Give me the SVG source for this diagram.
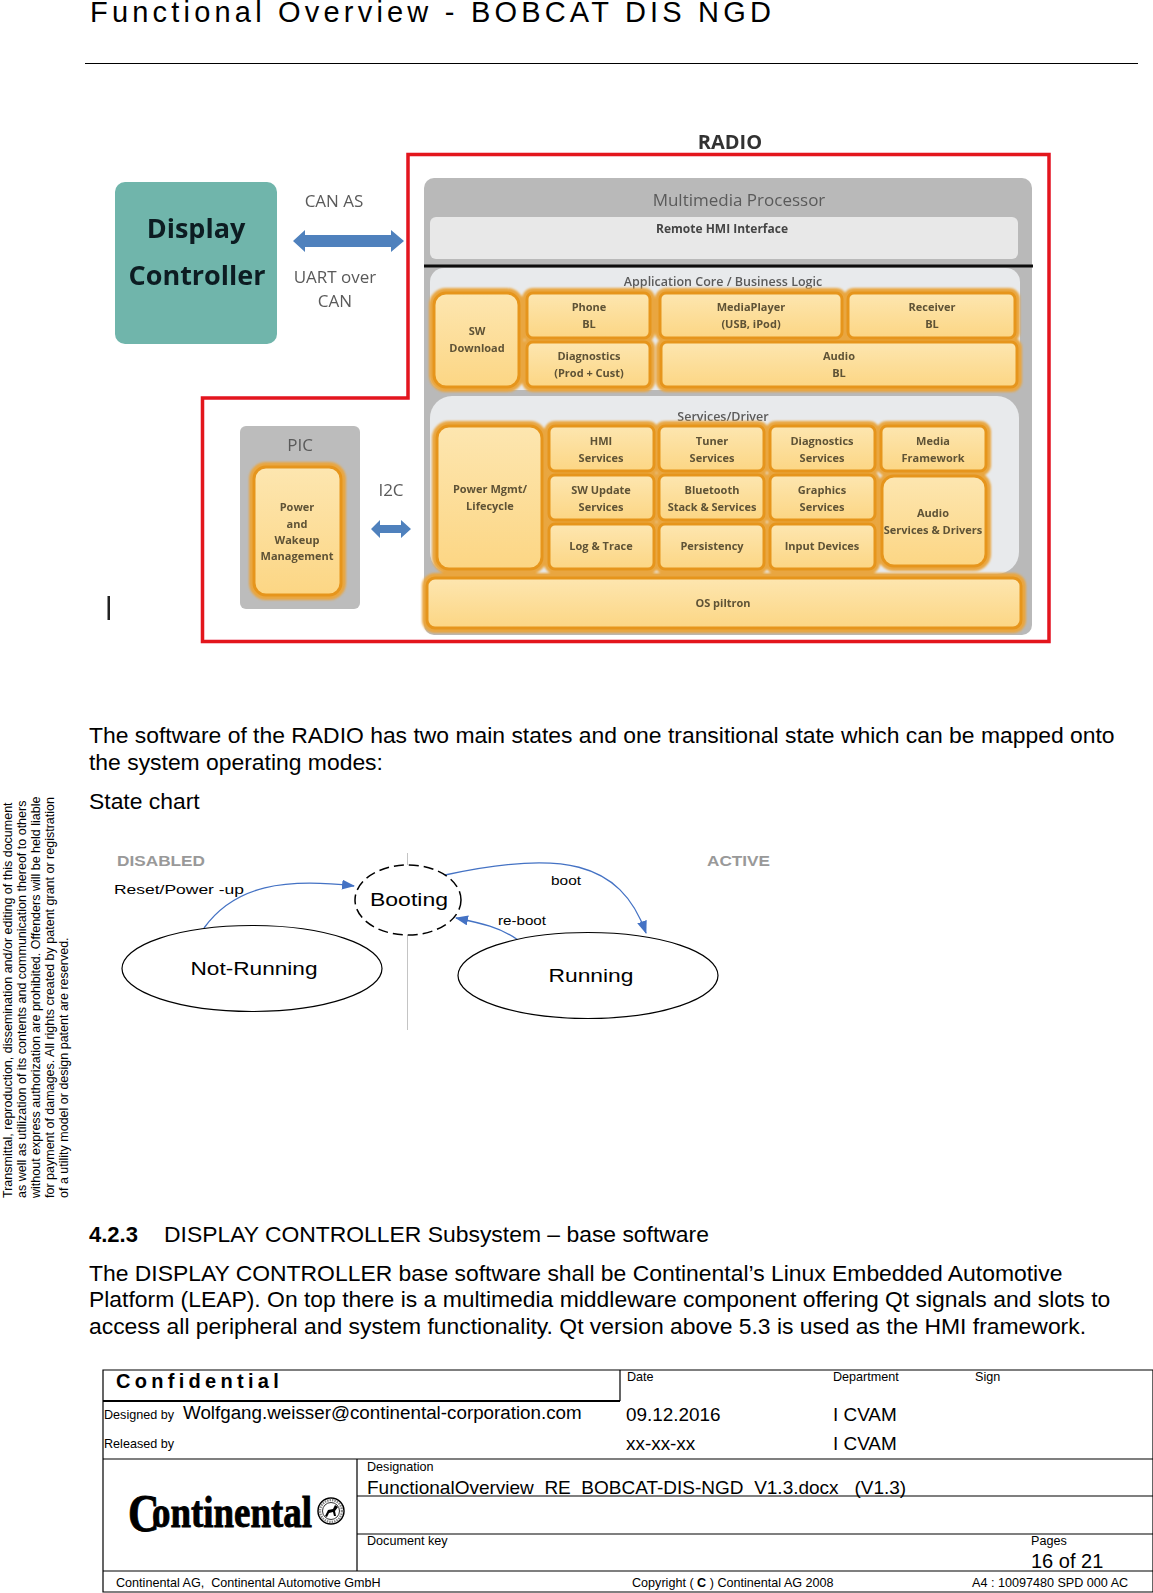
<svg xmlns="http://www.w3.org/2000/svg" width="1153" height="1593" viewBox="0 0 1153 1593">
<defs>
<linearGradient id="og" x1="0" y1="0" x2="0" y2="1"><stop offset="0" stop-color="#fde6b0"/><stop offset="1" stop-color="#fcd684"/></linearGradient>
<filter id="soft" x="-5%" y="-5%" width="110%" height="110%"><feGaussianBlur stdDeviation="0.65"/></filter>
<filter id="glow" x="-10%" y="-15%" width="120%" height="130%"><feGaussianBlur stdDeviation="1.3"/></filter>
<marker id="ah" viewBox="0 0 13 10" refX="12" refY="5" markerWidth="13" markerHeight="10" orient="auto" markerUnits="userSpaceOnUse"><path d="M0 0L13 5L0 10Z" fill="#4472c4"/></marker>
</defs>
<style>
text{font-family:"Liberation Sans",Arial,sans-serif;fill:#000;white-space:pre}
.body{font-size:22.9px}
.o{fill:url(#og);stroke:#e6951c;stroke-width:3}
.og{fill:none;stroke:#e9a640;stroke-width:10}
.t{font-family:"Open Sans","Noto Sans",sans-serif;font-size:11px;font-weight:700;fill:#5e5236;text-anchor:middle}
.g{font-family:"Open Sans","Noto Sans",sans-serif;fill:#5a5a5a;text-anchor:middle}
.hd{font-family:"Open Sans","Noto Sans",sans-serif;font-weight:700;text-anchor:middle}
.red{fill:none;stroke:#e3141f;stroke-width:3.5}
.dbl{fill:#4f81bd}
.st{fill:#fff;stroke:#000;stroke-width:1.2}
.e{font-size:18px;text-anchor:middle}
.c{fill:none;stroke:#4472c4;stroke-width:1.3;marker-end:url(#ah)}
.zone{font-size:14px;font-weight:bold;fill:#999}
.lb{font-size:13.5px}
.tb{fill:none;stroke:#000;stroke-width:1.2}
.s{font-size:12.6px}
.v{font-size:18.9px}
.l{font-size:12.5px}
.logo{font-family:"Liberation Serif",serif;font-size:44px;font-weight:bold;stroke:#000;stroke-width:.9}
</style>
<rect width="1153" height="1593" fill="#fff"/>
<g id="header">
<text x="90" y="22" font-size="29" letter-spacing="4.2">Functional Overview - BOBCAT DIS NGD</text>
<line x1="85" y1="63.500" x2="1138" y2="63.500" stroke="#000" stroke-width="1.200"/>
</g>
<g id="architecture" filter="url(#soft)">
<path id="radio-frame" class="red" d="M408 154.500H1049V641.500H202.500V398H408Z"/>
<text class="hd" x="730" y="149" font-size="20" style="fill:#333">RADIO</text>
<g id="display-controller">
<rect x="115" y="182" width="162" height="162" rx="10" fill="#6fb5ab"/>
<text class="hd" x="196" y="238" font-size="27" style="fill:#0c1f22">Display</text>
<text class="hd" x="197" y="285" font-size="27" style="fill:#0c1f22">Controller</text>
</g>
<g id="can-link">
<path class="dbl" d="M293 241L305 230V235H391V230L404 241L391 252V247H305V252Z"/>
<text class="g" x="334" y="207" font-size="17">CAN AS</text>
<text class="g" x="335" y="283" font-size="17">UART over</text>
<text class="g" x="335" y="307" font-size="17">CAN</text>
</g>
<g id="multimedia-processor">
<rect x="424" y="178" width="608" height="457" rx="10" fill="#b9b9b9"/>
<text class="g" x="739" y="206" font-size="17">Multimedia Processor</text>
<rect x="430" y="217" width="588" height="42" rx="6" fill="#e8e8e8"/>
<text class="hd" x="722" y="233" font-size="12" style="fill:#444">Remote HMI Interface</text>
<rect x="430" y="268" width="590" height="122" rx="14" fill="#e8eaec"/>
<rect x="430" y="396" width="589" height="178" rx="22" fill="#e8eaec"/>
<line x1="424" y1="266" x2="1033" y2="266" stroke="#111" stroke-width="2.800"/>
<text class="g" x="723" y="286" font-size="12.500" font-weight="600">Application Core / Business Logic</text>
<text class="g" x="723" y="421" font-size="12.500" font-weight="600">Services/Driver</text>
</g>
<g id="orange-glow" filter="url(#glow)">
<rect class="og" x="434" y="293" width="85" height="94" rx="12"/>
<rect class="og" x="527" y="293" width="123" height="45" rx="6"/>
<rect class="og" x="527" y="342" width="123" height="45" rx="6"/>
<rect class="og" x="660" y="293" width="182" height="45" rx="6"/>
<rect class="og" x="848" y="293" width="167" height="45" rx="6"/>
<rect class="og" x="661" y="342" width="356" height="45" rx="6"/>
<rect class="og" x="437" y="426" width="105" height="143" rx="12"/>
<rect class="og" x="549" y="426" width="105" height="45" rx="6"/>
<rect class="og" x="659" y="426" width="105" height="45" rx="6"/>
<rect class="og" x="770" y="426" width="105" height="45" rx="6"/>
<rect class="og" x="881" y="426" width="105" height="45" rx="6"/>
<rect class="og" x="549" y="475" width="105" height="45" rx="6"/>
<rect class="og" x="659" y="475" width="105" height="45" rx="6"/>
<rect class="og" x="770" y="475" width="105" height="45" rx="6"/>
<rect class="og" x="882" y="476" width="104" height="90" rx="12"/>
<rect class="og" x="549" y="524" width="105" height="45" rx="6"/>
<rect class="og" x="659" y="524" width="105" height="45" rx="6"/>
<rect class="og" x="770" y="524" width="105" height="45" rx="6"/>
<rect class="og" x="427" y="578" width="594" height="50" rx="8"/>
</g>
<g id="sw-download"><rect class="o" x="434" y="293" width="85" height="94" rx="12"/><text class="t" x="477" y="335">SW</text><text class="t" x="477" y="352">Download</text></g>
<g id="phone-bl"><rect class="o" x="527" y="293" width="123" height="45" rx="6"/><text class="t" x="589" y="311">Phone</text><text class="t" x="589" y="328">BL</text></g>
<g id="diagnostics-bl"><rect class="o" x="527" y="342" width="123" height="45" rx="6"/><text class="t" x="589" y="360">Diagnostics</text><text class="t" x="589" y="377">(Prod + Cust)</text></g>
<g id="media-player"><rect class="o" x="660" y="293" width="182" height="45" rx="6"/><text class="t" x="751" y="311">MediaPlayer</text><text class="t" x="751" y="328">(USB, iPod)</text></g>
<g id="receiver-bl"><rect class="o" x="848" y="293" width="167" height="45" rx="6"/><text class="t" x="932" y="311">Receiver</text><text class="t" x="932" y="328">BL</text></g>
<g id="audio-bl"><rect class="o" x="661" y="342" width="356" height="45" rx="6"/><text class="t" x="839" y="360">Audio</text><text class="t" x="839" y="377">BL</text></g>
<g id="power-mgmt"><rect class="o" x="437" y="426" width="105" height="143" rx="12"/><text class="t" x="490" y="493">Power Mgmt/</text><text class="t" x="490" y="510">Lifecycle</text></g>
<g id="hmi-services"><rect class="o" x="549" y="426" width="105" height="45" rx="6"/><text class="t" x="601" y="445">HMI</text><text class="t" x="601" y="462">Services</text></g>
<g id="tuner-services"><rect class="o" x="659" y="426" width="105" height="45" rx="6"/><text class="t" x="712" y="445">Tuner</text><text class="t" x="712" y="462">Services</text></g>
<g id="diagnostics-services"><rect class="o" x="770" y="426" width="105" height="45" rx="6"/><text class="t" x="822" y="445">Diagnostics</text><text class="t" x="822" y="462">Services</text></g>
<g id="media-framework"><rect class="o" x="881" y="426" width="105" height="45" rx="6"/><text class="t" x="933" y="445">Media</text><text class="t" x="933" y="462">Framework</text></g>
<g id="sw-update"><rect class="o" x="549" y="475" width="105" height="45" rx="6"/><text class="t" x="601" y="494">SW Update</text><text class="t" x="601" y="511">Services</text></g>
<g id="bluetooth"><rect class="o" x="659" y="475" width="105" height="45" rx="6"/><text class="t" x="712" y="494">Bluetooth</text><text class="t" x="712" y="511">Stack &amp; Services</text></g>
<g id="graphics"><rect class="o" x="770" y="475" width="105" height="45" rx="6"/><text class="t" x="822" y="494">Graphics</text><text class="t" x="822" y="511">Services</text></g>
<g id="audio-services"><rect class="o" x="882" y="476" width="104" height="90" rx="12"/><text class="t" x="933" y="517">Audio</text><text class="t" x="933" y="534">Services &amp; Drivers</text></g>
<g id="log-trace"><rect class="o" x="549" y="524" width="105" height="45" rx="6"/><text class="t" x="601" y="550">Log &amp; Trace</text></g>
<g id="persistency"><rect class="o" x="659" y="524" width="105" height="45" rx="6"/><text class="t" x="712" y="550">Persistency</text></g>
<g id="input-devices"><rect class="o" x="770" y="524" width="105" height="45" rx="6"/><text class="t" x="822" y="550">Input Devices</text></g>
<g id="os"><rect class="o" x="427" y="578" width="594" height="50" rx="8"/><text class="t" x="723" y="607">OS piltron</text></g>
<g id="pic">
<rect x="240" y="426" width="120" height="183" rx="6" fill="#bcbcbc"/>
<text class="g" x="300" y="451" font-size="17">PIC</text>
<rect class="og" x="254" y="467" width="87" height="128" rx="12" filter="url(#glow)"/>
<rect class="o" x="254" y="467" width="87" height="128" rx="12"/>
<text class="t" x="297" y="511">Power</text><text class="t" x="297" y="528">and</text><text class="t" x="297" y="544">Wakeup</text><text class="t" x="297" y="560">Management</text>
</g>
<g id="i2c-link">
<path class="dbl" d="M371 529L380 520V525H401V520L411 529L401 538V533H380V538Z"/>
<text class="g" x="391" y="496" font-size="17">I2C</text>
</g>
<rect x="107.500" y="596" width="2.500" height="24" fill="#222"/>
</g>
<g id="body-text">
<text class="body" x="89" y="743">The software of the RADIO has two main states and one transitional state which can be mapped onto</text>
<text class="body" x="89" y="770">the system operating modes:</text>
<text class="body" x="89" y="809">State chart</text>
<text x="89" y="1242" font-size="22" font-weight="bold">4.2.3</text>
<text class="body" x="164" y="1242">DISPLAY CONTROLLER Subsystem – base software</text>
<text class="body" x="89" y="1281">The DISPLAY CONTROLLER base software shall be Continental’s Linux Embedded Automotive</text>
<text class="body" x="89" y="1307">Platform (LEAP). On top there is a multimedia middleware component offering Qt signals and slots to</text>
<text class="body" x="89" y="1334">access all peripheral and system functionality. Qt version above 5.3 is used as the HMI framework.</text>
</g>
<g id="state-chart">
<line x1="407.500" y1="853" x2="407.500" y2="1030" stroke="#c4c4c4" stroke-width="1"/>
<text class="zone" x="117" y="866" textLength="88" lengthAdjust="spacingAndGlyphs">DISABLED</text>
<text class="zone" x="707" y="866" textLength="63" lengthAdjust="spacingAndGlyphs">ACTIVE</text>
<g id="connectors">
<path class="c" d="M204 928C235 885 285 878 354 886"/>
<path class="c" d="M445 875C560 850 620 860 646 933"/>
<path class="c" d="M518 940C500 927 480 923 456 918"/>
</g>
<g id="not-running"><ellipse class="st" cx="252" cy="968.500" rx="130" ry="43"/><text class="e" x="254" y="975" textLength="127" lengthAdjust="spacingAndGlyphs">Not-Running</text></g>
<g id="running"><ellipse class="st" cx="588" cy="975.500" rx="130" ry="43"/><text class="e" x="591" y="982" textLength="85" lengthAdjust="spacingAndGlyphs">Running</text></g>
<g id="booting"><ellipse class="st" cx="408" cy="900" rx="53" ry="35" stroke-dasharray="10 5" style="stroke-width:1.500"/><text class="e" x="409" y="906" textLength="78" lengthAdjust="spacingAndGlyphs">Booting</text></g>
<text class="lb" x="114" y="894" textLength="130" lengthAdjust="spacingAndGlyphs">Reset/Power -up</text>
<text class="lb" x="551" y="885" textLength="30" lengthAdjust="spacingAndGlyphs">boot</text>
<text class="lb" x="498" y="925" textLength="48" lengthAdjust="spacingAndGlyphs">re-boot</text>
</g>
<g id="side-note" class="l" transform="rotate(-90)">
<text x="-1198" y="12">Transmittal, reproduction, dissemination and/or editing of this document</text>
<text x="-1198" y="26">as well as utilization of its contents and communication thereof to others</text>
<text x="-1198" y="40">without express authorization are prohibited. Offenders will be held liable</text>
<text x="-1198" y="54">for payment of damages. All rights created by patent grant or registration</text>
<text x="-1198" y="68">of a utility model or design patent are reserved.</text>
</g>
<g id="title-block">
<path class="tb" d="M103 1370H1153V1592H103ZM620 1370V1401M103 1459H1153M357 1459V1571M357 1496H1153M357 1534H1153M103 1571H1153"/>
<line x1="103" y1="1401" x2="620" y2="1401" stroke="#000" stroke-width="2"/>
<text x="116" y="1388" font-size="20" font-weight="bold" letter-spacing="4.300">Confidential</text>
<text class="s" x="627" y="1381">Date</text>
<text class="s" x="833" y="1381">Department</text>
<text class="s" x="975" y="1381">Sign</text>
<text class="s" x="104" y="1419">Designed by</text>
<text class="v" x="183" y="1419" style="font-size:18.800px">Wolfgang.weisser@continental-corporation.com</text>
<text class="v" x="626" y="1421">09.12.2016</text>
<text class="v" x="833" y="1421">I CVAM</text>
<text class="s" x="104" y="1448">Released by</text>
<text class="v" x="626" y="1450">xx-xx-xx</text>
<text class="v" x="833" y="1450">I CVAM</text>
<text class="s" x="367" y="1471">Designation</text>
<text class="v" x="367" y="1494" style="font-size:19px">FunctionalOverview  RE  BOBCAT-DIS-NGD  V1.3.docx   (V1.3)</text>
<text class="s" x="367" y="1545">Document key</text>
<text class="s" x="1031" y="1545">Pages</text>
<text class="v" x="1031" y="1568" style="font-size:20px">16 of 21</text>
<text class="s" x="116" y="1587">Continental AG,  Continental Automotive GmbH</text>
<text class="s" x="632" y="1587">Copyright ( <tspan font-weight="bold">C</tspan> ) Continental AG 2008</text>
<text class="s" x="972" y="1587">A4 : 10097480 SPD 000 AC</text>
<g id="logo">
<text class="logo" x="128" y="1527" textLength="184" lengthAdjust="spacingAndGlyphs"><tspan font-size="52" dy="4">C</tspan><tspan dx="-9" dy="-4">ontinental</tspan></text>
<circle cx="331" cy="1511" r="13" fill="#fff" stroke="#000" stroke-width="1.500"/>
<circle cx="331" cy="1511" r="11" fill="none" stroke="#888" stroke-width="2.500" stroke-dasharray="1.500 1"/>
<circle cx="331" cy="1511" r="8.500" fill="#fff" stroke="#000" stroke-width=".8"/>
<path d="M325 1516L328 1510L333 1509L335 1505L338 1507L335 1511L336 1516L334 1516L333 1512L329 1513L327 1517Z" fill="#000"/>
</g>
</g>
</svg>
